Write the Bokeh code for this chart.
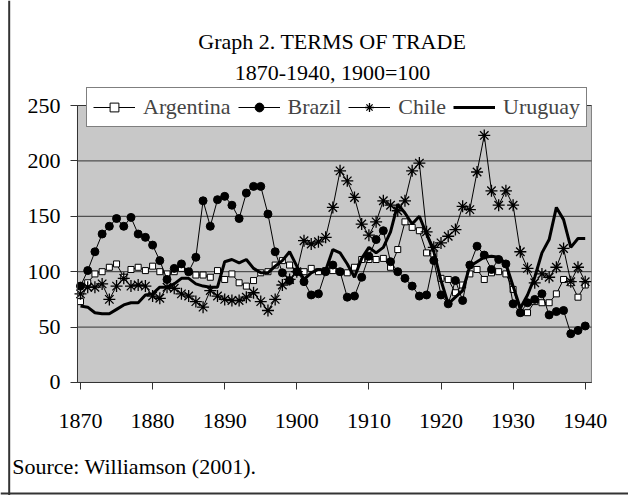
from bokeh.plotting import figure
from bokeh.models import (Range1d, FixedTicker, Legend, LegendItem, Label, Span)
from bokeh.embed import file_html
from bokeh.resources import INLINE

years = list(range(1870, 1941))

argentina = [73, 90, 98, 100, 104, 107, 95, 102, 104, 101,
             105, 100, 98, 100, 103, 100, 97, 97, 95, 101,
             93, 98, 90, 87, 92, 99, 100, 106, 110, 106,
             100, 100, 103, 100, 101, 101, 100, 99, 104, 111,
             111, 111, 112, 104, 120, 145, 140, 137, 117, 116,
             94, 93, 81, 88, 98, 102, 93, 99, 100, 98,
             84, 63, 63, 73, 72, 72, 80, 93, 90, 77,
             88]

brazil = [87, 101, 118, 134, 141, 148, 141, 149, 134, 131,
          124, 110, 93, 103, 107, 100, 113, 164, 141, 165,
          168, 160, 148, 171, 177, 177, 152, 118, 99, 92,
          100, 91, 79, 80, 100, 106, 100, 77, 78, 95,
          114, 129, 137, 109, 100, 94, 87, 78, 79, 110,
          79, 71, 92, 74, 106, 123, 115, 102, 111, 107,
          71, 63, 72, 75, 80, 61, 64, 65, 44, 47,
          51]

chile = [80, 86, 86, 89, 75, 87, 94, 87, 88, 87,
         78, 76, 86, 85, 80, 78, 73, 68, 83, 78,
         75, 74, 74, 77, 81, 73, 65, 75, 88, 93,
         100, 128, 125, 127, 131, 158, 191, 182, 167, 143,
         133, 145, 164, 160, 155, 164, 191, 198, 136, 122,
         126, 132, 138, 159, 156, 190, 223, 173, 160, 173,
         160, 118, 103, 90, 98, 95, 104, 121, 91, 104,
         91]

uruguay = [69, 68, 63, 62, 62, 66, 70, 72, 72, 79,
           80, 86, 86, 89, 94, 94, 89, 87, 86, 86,
           109, 111, 108, 111, 103, 99, 99, 105, 110, 118,
           105, 93, 99, 102, 101, 120, 117, 107, 95, 112,
           122, 117, 122, 136, 161, 153, 143, 150, 134, 118,
           92, 71, 77, 83, 105, 109, 113, 114, 113, 107,
           87, 67, 79, 95, 117, 129, 158, 147, 122, 130,
           130]

x_ticks = [1870, 1880, 1890, 1900, 1910, 1920, 1930, 1940]
y_ticks = [0, 50, 100, 150, 200, 250]

title_1 = "Graph 2. TERMS OF TRADE"
title_2 = "1870-1940, 1900=100"
source = "Source: Williamson (2001)."

FONT = "Liberation Serif"
FS = "22px"
INK = "#333333"

# plot-area extent (data space) and whole-canvas ranges
AREA_X = (1869.58, 1940.87)
AREA_Y = (0, 250)

p = figure(width=628, height=495, output_backend="svg", toolbar_location=None,
           x_range=Range1d(1858.904, 1946.005), y_range=Range1d(-101.99, 344.77),
           min_border=0)

p.background_fill_color = "white"
p.border_fill_color = "white"
p.outline_line_color = None
p.xgrid.visible = False
p.ygrid.visible = False

# grey plot area
p.quad(left=[AREA_X[0]], right=[AREA_X[1]], bottom=[AREA_Y[0]], top=[AREA_Y[1]],
       fill_color="#c8c8c8", line_color="#808080", line_width=1, level="image")
# horizontal gridlines
p.segment(x0=[AREA_X[0]] * len(y_ticks), x1=[AREA_X[1]] * len(y_ticks),
          y0=y_ticks, y1=y_ticks, line_color=INK, line_width=1, level="underlay")

p.xaxis.ticker = FixedTicker(ticks=x_ticks)
p.yaxis.ticker = FixedTicker(ticks=y_ticks)
p.xaxis.fixed_location = AREA_Y[0]
p.yaxis.fixed_location = AREA_X[0]
p.xaxis.bounds = AREA_X
p.yaxis.bounds = AREA_Y
for ax in (p.xaxis[0], p.yaxis[0]):
    ax.axis_line_color = INK
    ax.major_tick_line_color = INK
    ax.major_tick_in = 0
    ax.major_tick_out = 7
    ax.minor_tick_line_color = None
    ax.major_label_text_font = FONT
    ax.major_label_text_font_size = FS
    ax.major_label_text_color = "black"
p.xaxis.major_label_standoff = 25
p.yaxis.major_label_standoff = 10

la = p.line(years, argentina, line_color="black", line_width=1)
sa = p.scatter(years, argentina, marker="square", size=6, line_color="black",
               fill_color="white", line_width=1)
lb = p.line(years, brazil, line_color="black", line_width=1)
sb = p.scatter(years, brazil, marker="circle", size=8, line_color="black",
               fill_color="black")
lc = p.line(years, chile, line_color="black", line_width=1)
sc = p.scatter(years, chile, marker="asterisk", size=12, line_color="black",
               line_width=1.3)
lu = p.line(years, uruguay, line_color="black", line_width=3)

legend = Legend(items=[LegendItem(label="Argentina", renderers=[la, sa]),
                       LegendItem(label="Brazil", renderers=[lb, sb]),
                       LegendItem(label="Chile", renderers=[lc, sc]),
                       LegendItem(label="Uruguay", renderers=[lu])],
                orientation="horizontal", location=(86, 368),
                glyph_width=42, glyph_height=22, label_standoff=8,
                spacing=7, padding=6, margin=0, label_height=22,
                label_text_font=FONT, label_text_font_size=FS,
                border_line_color="black", border_line_width=1,
                background_fill_color="white", background_fill_alpha=1)
p.add_layout(legend)

for txt, xx, yy, align in [(title_1, 1904.95, 308.0, "center"),
                           (title_2, 1904.95, 280.0, "center"),
                           (source, 1860.53, -75.5, "left")]:
    p.add_layout(Label(x=xx, y=yy, text=txt, text_font=FONT, text_font_size=FS,
                       text_align=align, text_baseline="alphabetic",
                       text_color="black"))

# chart border (left and bottom edges visible in the reference)
p.add_layout(Span(location=1860.11, dimension="height", line_color=INK, line_width=2))
p.add_layout(Span(location=-100.18, dimension="width", line_color=INK, line_width=2))

open("out.html", "w").write(file_html(p, INLINE))
